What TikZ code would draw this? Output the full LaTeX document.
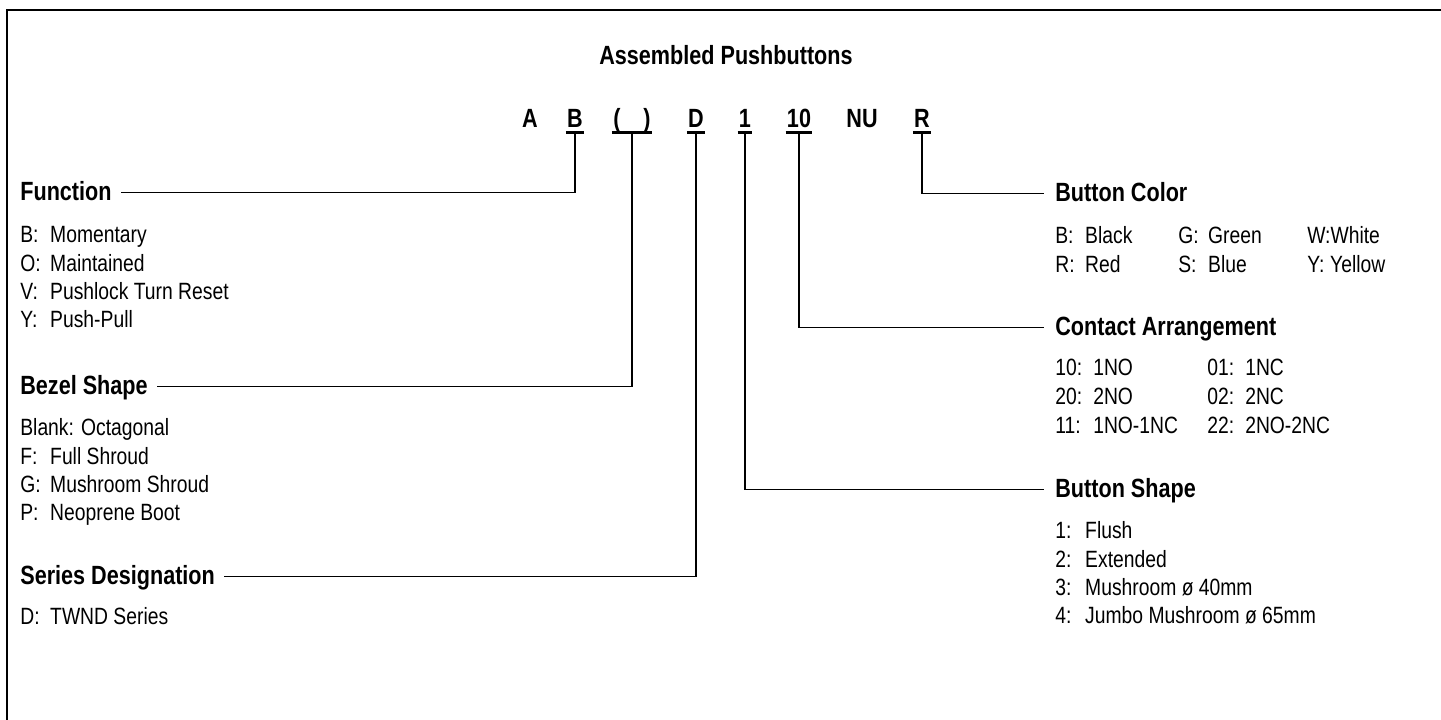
\documentclass[tikz,border=0pt]{standalone}
\usepackage{fontspec}
\setmainfont{Liberation Sans}[FakeStretch=0.82]
\newcommand{\itemkey}[2][17pt]{\makebox[#1][l]{#2}}

\tikzset{
	heading/.style={font=\fontsize{15}{18}\selectfont\bfseries, inner sep=0pt, anchor=base west},
	entry/.style={font=\fontsize{13.4}{16}\selectfont, inner sep=0pt, anchor=base west},
	codechar/.style={font=\fontsize{15}{18}\selectfont\bfseries, inner sep=0.6pt, anchor=base},
	conn/.style={line width=0.85pt},
	uline/.style={line width=1.4pt},
	frame/.style={line width=1.7pt}
}

\begin{document}
\begin{tikzpicture}[x=0.02cm, y=-0.02cm]
	\useasboundingbox (0,0) rectangle (1441,720);
	\draw[frame] (7,720) |- (1441,10);

	\node[codechar] (title) at (726,64) {Assembled Pushbuttons};

	% catalogue number
	\node[codechar] (cA) at (530,127) {A};
	\node[codechar] (cB) at (575,127) {B};
	\node[codechar] (cP) at (632,127) {(\hspace{13pt})};
	\node[codechar] (cD) at (696,127) {D};
	\node[codechar] (c1) at (745,127) {1};
	\node[codechar] (c10) at (799,127) {10};
	\node[codechar] (cNU) at (862,127) {NU};
	\node[codechar] (cR) at (922,127) {R};

	\draw[uline] ([yshift=-3.2pt]cB.base west) -- ([yshift=-3.2pt]cB.base east);
	\draw[uline] ([yshift=-3.2pt]cP.base west) -- ([yshift=-3.2pt]cP.base east);
	\draw[uline] ([yshift=-3.2pt]cD.base west) -- ([yshift=-3.2pt]cD.base east);
	\draw[uline] ([yshift=-3.2pt]c1.base west) -- ([yshift=-3.2pt]c1.base east);
	\draw[uline] ([yshift=-3.2pt]c10.base west) -- ([yshift=-3.2pt]c10.base east);
	\draw[uline] ([yshift=-3.2pt]cR.base west) -- ([yshift=-3.2pt]cR.base east);

	% left column
	\node[heading] (fun) at (20,200) {Function};
	\node[entry] (f1) at (20,242) {\itemkey{B:}Momentary};
	\node[entry] (f2) at (20,271) {\itemkey{O:}Maintained};
	\node[entry] (f3) at (20,299) {\itemkey{V:}Pushlock Turn Reset};
	\node[entry] (f4) at (20,327) {\itemkey{Y:}Push-Pull};

	\node[heading] (bez) at (20,394) {Bezel Shape};
	\node[entry] (z1) at (20,435) {Blank: Octagonal};
	\node[entry] (z2) at (20,464) {\itemkey{F:}Full Shroud};
	\node[entry] (z3) at (20,492) {\itemkey{G:}Mushroom Shroud};
	\node[entry] (z4) at (20,520) {\itemkey{P:}Neoprene Boot};

	\node[heading] (ser) at (20,584) {Series Designation};
	\node[entry] (s1) at (20,624) {\itemkey{D:}TWND Series};

	% right column
	\node[heading] (bcol) at (1055,201) {Button Color};
	\node[entry] (b1) at (1055,243) {\itemkey{B:}Black};
	\node[entry] (b2) at (1178,243) {\itemkey{G:}Green};
	\node[entry] (b3) at (1307,243) {W:White};
	\node[entry] (b4) at (1055,272) {\itemkey{R:}Red};
	\node[entry] (b5) at (1178,272) {\itemkey{S:}Blue};
	\node[entry] (b6) at (1307,272) {\itemkey[13pt]{Y:}Yellow};

	\node[heading] (cont) at (1055,335) {Contact Arrangement};
	\node[entry] (k1) at (1055,375) {\itemkey[21.6pt]{10:}1NO};
	\node[entry] (k2) at (1207,375) {\itemkey[21.6pt]{01:}1NC};
	\node[entry] (k3) at (1055,404) {\itemkey[21.6pt]{20:}2NO};
	\node[entry] (k4) at (1207,404) {\itemkey[21.6pt]{02:}2NC};
	\node[entry] (k5) at (1055,433) {\itemkey[21.6pt]{11:}1NO-1NC};
	\node[entry] (k6) at (1207,433) {\itemkey[21.6pt]{22:}2NO-2NC};

	\node[heading] (bshape) at (1055,497) {Button Shape};
	\node[entry] (h1) at (1055,538) {\itemkey{1:}Flush};
	\node[entry] (h2) at (1055,567) {\itemkey{2:}Extended};
	\node[entry] (h3) at (1055,595) {\itemkey{3:}Mushroom ø 40mm};
	\node[entry] (h4) at (1055,623) {\itemkey{4:}Jumbo Mushroom ø 65mm};

	% leader lines
	\draw[conn] ([yshift=-3.2pt]cB.base) |- ([xshift=5pt,yshift=4.2pt]fun.base east);
	\draw[conn] ([yshift=-3.2pt]cP.base) |- ([xshift=5pt,yshift=4.2pt]bez.base east);
	\draw[conn] ([yshift=-3.2pt]cD.base) |- ([xshift=5pt,yshift=4.2pt]ser.base east);
	\draw[conn] ([yshift=-3.2pt]c1.base) |- ([xshift=-6.5pt,yshift=4.2pt]bshape.base west);
	\draw[conn] ([yshift=-3.2pt]c10.base) |- ([xshift=-6.5pt,yshift=4.2pt]cont.base west);
	\draw[conn] ([yshift=-3.2pt]cR.base) |- ([xshift=-6.5pt,yshift=4.2pt]bcol.base west);
\end{tikzpicture}
\end{document}
